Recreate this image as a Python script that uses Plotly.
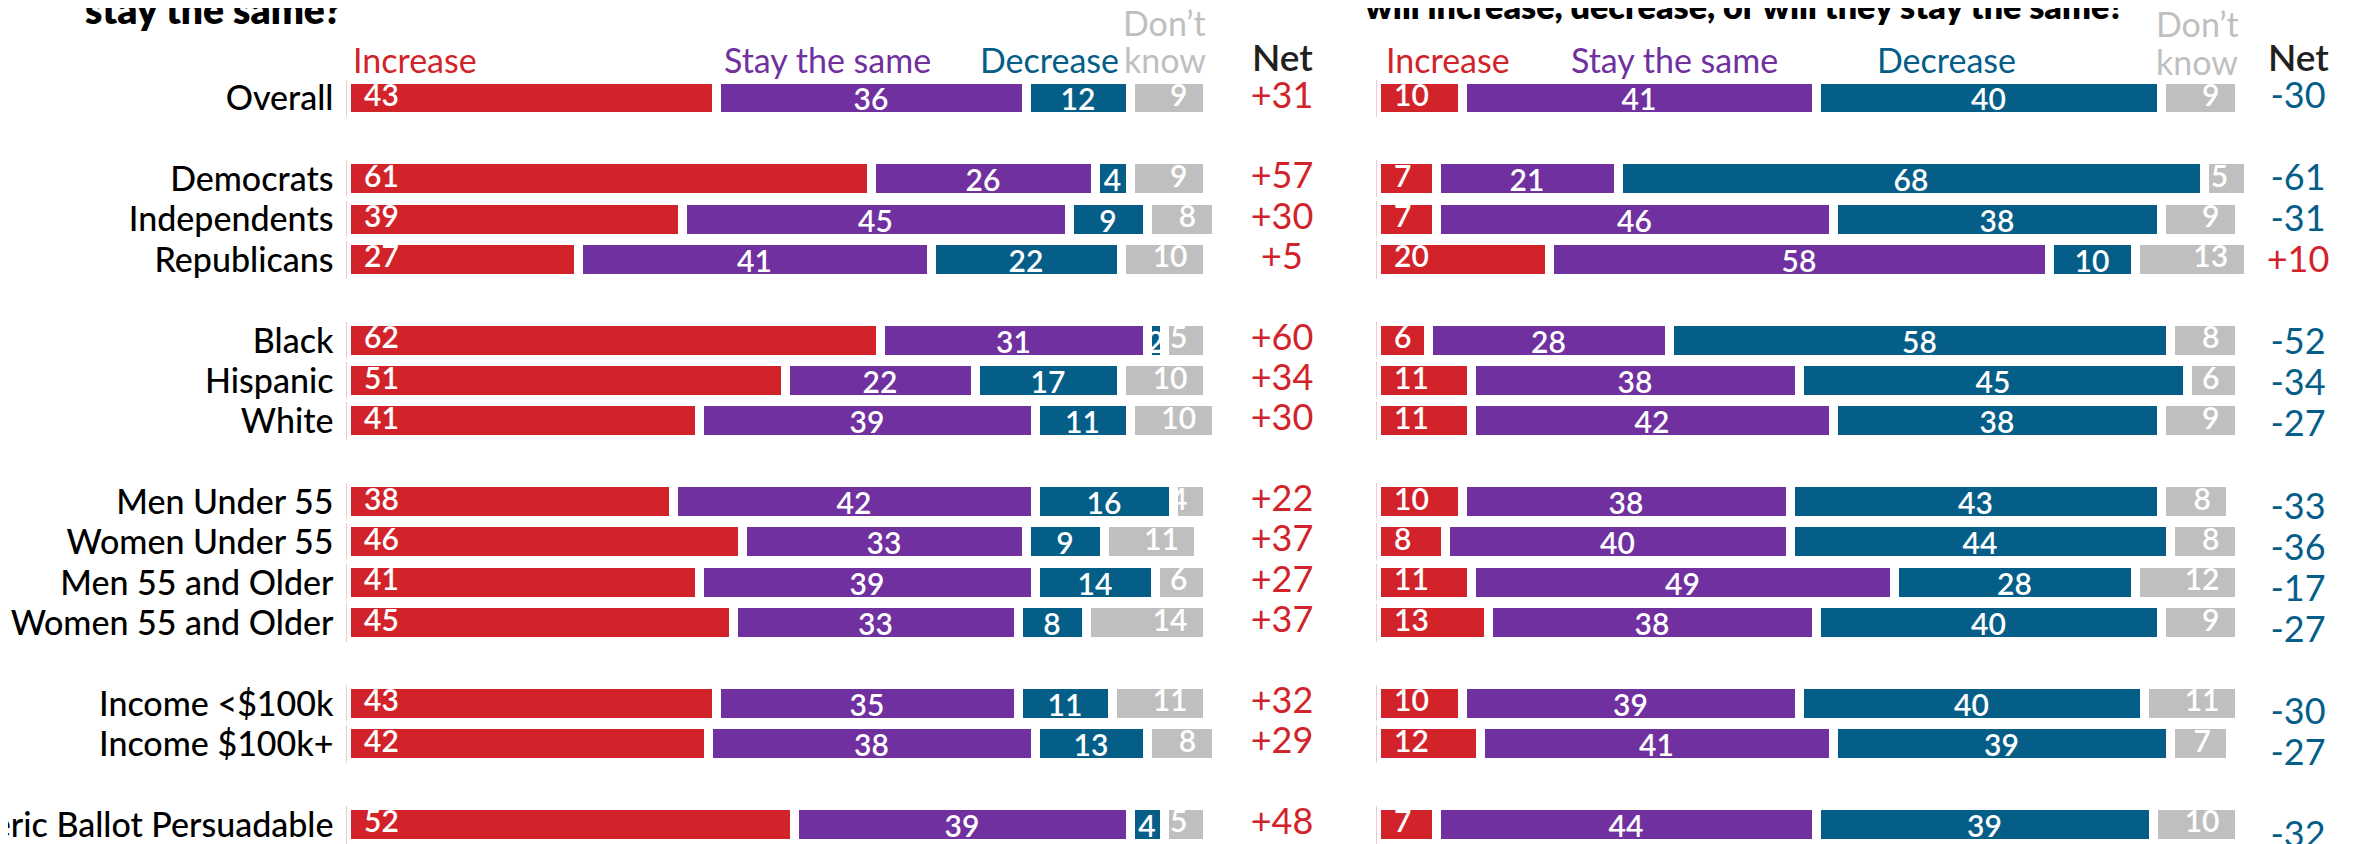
import plotly.graph_objects as go

# ---------------- data ----------------
groups = [
    ["Overall"],
    ["Democrats", "Independents", "Republicans"],
    ["Black", "Hispanic", "White"],
    ["Men Under 55", "Women Under 55", "Men 55 and Older", "Women 55 and Older"],
    ["Income <$100k", "Income $100k+"],
    ["Generic Ballot Persuadable"],
]
categories = [c for g in groups for c in g]

series_names = ["Increase", "Stay the same", "Decrease", "Don\u2019t know"]

left_increase = [43, 61, 39, 27, 62, 51, 41, 38, 46, 41, 45, 43, 42, 52]
left_same     = [36, 26, 45, 41, 31, 22, 39, 42, 33, 39, 33, 35, 38, 39]
left_decrease = [12, 4, 9, 22, 2, 17, 11, 16, 9, 14, 8, 11, 13, 4]
left_dontknow = [9, 9, 8, 10, 5, 10, 10, 4, 11, 6, 14, 11, 8, 5]
left_net      = [31, 57, 30, 5, 60, 34, 30, 22, 37, 27, 37, 32, 29, 48]

right_increase = [10, 7, 7, 20, 6, 11, 11, 10, 8, 11, 13, 10, 12, 7]
right_same     = [41, 21, 46, 58, 28, 38, 42, 38, 40, 49, 38, 39, 41, 44]
right_decrease = [40, 68, 38, 10, 58, 45, 38, 43, 44, 28, 40, 40, 39, 39]
right_dontknow = [9, 5, 9, 13, 8, 6, 9, 8, 8, 12, 9, 11, 7, 10]
right_net      = [-30, -61, -31, 10, -52, -34, -27, -33, -36, -17, -27, -30, -27, -32]

left_title = "stay the same?"
right_title = "will increase, decrease, or will they stay the same?"

# ---------------- style / layout constants ----------------
W, H = 2361, 844
OFF = 8  # page body margin
FONT = "Lato, 'Open Sans', sans-serif"
RED, PURPLE, BLUE, GRAY, DARK = "#d2232a", "#7030a0", "#045e88", "#bfbfbf", "#231f20"
colors = [RED, PURPLE, BLUE, GRAY]

ROW0_PX, ROW_STEP = 98.5 - OFF, 40.36
ROW_STEP_NET_R = 41.1
LX0, LS = 346.5 - OFF, 8.61
RX0, RS = 1376.5 - OFF, 8.63
GAP = 9
VAL_SIZE = 30
VAL_WEIGHT = 600
START_PAD_PX = 17.5   # red value text: distance from drawn bar start
END_PAD_PX = 20.0     # don't-know value text: distance from drawn bar end

row_pos = []
p = 0
for g in groups:
    for c in g:
        row_pos.append(p)
        p += 1
    p += 1


def py(px):
    """screen pixel y -> paper coordinate"""
    return 1 - (px - OFF) / H


def pxl(px):
    """screen pixel x -> paper coordinate"""
    return (px - OFF) / W


fig = go.Figure()
valfont = dict(color="white", size=VAL_SIZE, family=FONT, weight=VAL_WEIGHT)

panels = (
    ("x", LS, [left_increase, left_same, left_decrease, left_dontknow]),
    ("x2", RS, [right_increase, right_same, right_decrease, right_dontknow]),
)
for xa, scale, vals in panels:
    for i, (name, v, col) in enumerate(zip(series_names, vals, colors)):
        centred = i in (1, 2)
        fig.add_trace(go.Bar(
            name=name, x=v, y=row_pos, orientation="h", xaxis=xa, yaxis="y",
            marker=dict(color=col, line=dict(color="white", width=GAP)),
            width=0.94,
            text=v if centred else None,
            textposition="inside" if centred else "none",
            insidetextanchor="middle", textangle=0,
            insidetextfont=valfont,
            hoverinfo="skip", showlegend=False,
        ))
    # red values: left-aligned near the bar start
    inc = vals[0]
    fig.add_trace(go.Scatter(
        x=[START_PAD_PX / scale] * len(inc), y=row_pos, mode="text", text=inc,
        textposition="middle right", textfont=valfont,
        xaxis=xa, yaxis="y", showlegend=False, hoverinfo="skip", cliponaxis=False,
    ))
    # don't-know values: right-aligned near the bar end
    dk = vals[3]
    totals = [a + b + c + d for a, b, c, d in zip(*vals)]
    fig.add_trace(go.Scatter(
        x=[t - END_PAD_PX / scale for t in totals], y=row_pos, mode="text", text=dk,
        textposition="middle left", textfont=valfont,
        xaxis=xa, yaxis="y", showlegend=False, hoverinfo="skip", cliponaxis=False,
    ))

# Net columns
L_NET_X = (1282 - OFF - LX0) / LS
R_NET_X = (2298 - OFF - RX0) / RS
fig.add_trace(go.Scatter(
    x=[L_NET_X] * len(left_net), y=row_pos, mode="text",
    text=[f"{v:+d}" for v in left_net],
    textfont=dict(size=36, family=FONT, color=[RED if v > 0 else BLUE for v in left_net]),
    xaxis="x", yaxis="y", showlegend=False, hoverinfo="skip", cliponaxis=False,
))
fig.add_trace(go.Scatter(
    x=[R_NET_X] * len(right_net), y=row_pos, mode="text",
    text=[f"{v:+d}" for v in right_net],
    textfont=dict(size=36, family=FONT, color=[RED if v > 0 else BLUE for v in right_net]),
    xaxis="x2", yaxis="y2", showlegend=False, hoverinfo="skip", cliponaxis=False,
))

# ---------------- annotations ----------------
ann = []
hdr = dict(size=34, family=FONT)
ol = [left_increase[0], left_same[0], left_decrease[0], left_dontknow[0]]
# left panel headers
ann += [
    dict(text="Increase", xref="x", x=0.5, xanchor="left", y=py(60), font=dict(color=RED, **hdr)),
    dict(text="Stay the same", xref="x", x=ol[0] + 0.6, xanchor="left", y=py(60), font=dict(color=PURPLE, **hdr)),
    dict(text="Decrease", xref="x", x=sum(ol[:3]) - 1.0, xanchor="right", y=py(60), font=dict(color=BLUE, **hdr)),
    dict(text="Don\u2019t", xref="x", x=100, xanchor="right", y=py(22), font=dict(color=GRAY, **hdr)),
    dict(text="know", xref="x", x=100, xanchor="right", y=py(60), font=dict(color=GRAY, **hdr)),
    dict(text="Net", xref="x", x=L_NET_X, xanchor="center", y=py(56), font=dict(color=DARK, size=37, family=FONT, weight=600)),
]
# right panel headers
ann += [
    dict(text="Increase", xref="x2", x=0.9, xanchor="left", y=py(60), font=dict(color=RED, **hdr)),
    dict(text="Stay the same", xref="x2", x=34.5, xanchor="center", y=py(60), font=dict(color=PURPLE, **hdr)),
    dict(text="Decrease", xref="x2", x=66.0, xanchor="center", y=py(60), font=dict(color=BLUE, **hdr)),
    dict(text="Don\u2019t", xref="x2", x=95.1, xanchor="center", y=py(23), font=dict(color=GRAY, **hdr)),
    dict(text="know", xref="x2", x=95.1, xanchor="center", y=py(61), font=dict(color=GRAY, **hdr)),
    dict(text="Net", xref="x2", x=R_NET_X, xanchor="center", y=py(56), font=dict(color=DARK, size=37, family=FONT, weight=600)),
]
# titles (cut off at top of image)
ann += [
    dict(text=left_title, xref="paper", x=pxl(83), xanchor="left", yanchor="bottom", y=py(34),
         font=dict(color="black", size=39, family=FONT, weight=800)),
    dict(text=right_title, xref="paper", x=pxl(1363), xanchor="left", yanchor="bottom", y=py(28),
         font=dict(color="black", size=34, family=FONT, weight=800)),
]
for a in ann:
    a.setdefault("yref", "paper")
    a.setdefault("yanchor", "middle")
    a["showarrow"] = False

fig.update_layout(
    width=W, height=H, margin=dict(l=0, r=0, t=0, b=0, autoexpand=False),
    paper_bgcolor="white", plot_bgcolor="white",
    barmode="stack", bargap=0, annotations=ann,
    font=dict(family=FONT, color="black"),
    uniformtext=dict(minsize=VAL_SIZE, mode="show"),
    xaxis=dict(domain=[LX0 / W, (LX0 + 1000) / W], range=[0, 1000 / LS], visible=False,
               fixedrange=True, automargin=False),
    xaxis2=dict(domain=[RX0 / W, 1], range=[0, (W - RX0) / RS], visible=False,
                fixedrange=True, automargin=False),
    yaxis=dict(domain=[0, 1], range=[(H - ROW0_PX) / ROW_STEP, -ROW0_PX / ROW_STEP],
               tickvals=row_pos, ticktext=categories, showgrid=False, zeroline=False,
               showline=False, ticks="", ticklabelstandoff=12, automargin=False,
               tickfont=dict(size=34, color="black", family=FONT, weight=500), anchor="x",
               fixedrange=True),
    yaxis2=dict(domain=[0, 1], range=[(H - ROW0_PX) / ROW_STEP_NET_R, -ROW0_PX / ROW_STEP_NET_R],
                overlaying="y", anchor="x2", visible=False, fixedrange=True, automargin=False),
)

fig.write_html("out.html")
